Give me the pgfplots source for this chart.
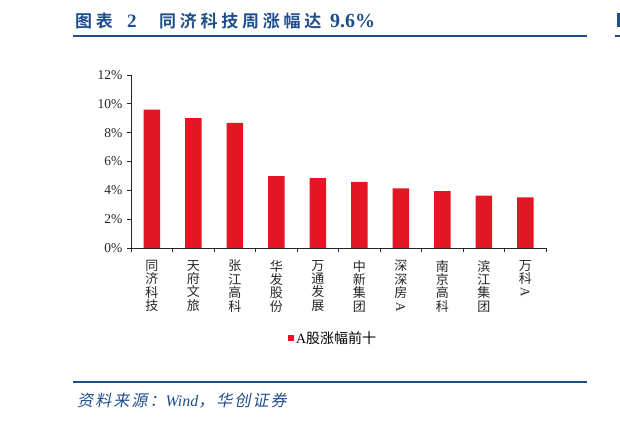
\documentclass[border=0pt]{standalone}
\usepackage{pgfplots}
\pgfplotsset{compat=1.18}
\usepackage{graphicx}
\usepackage{fontspec}
\setmainfont{Liberation Serif}
\newfontfamily\cjk{Noto Sans CJK SC}
\newfontfamily\cjkt[LetterSpace=22,BoldFont={Noto Sans CJK SC Bold}]{Noto Sans CJK SC}
\newfontfamily\cjkf[LetterSpace=13,FakeSlant=0.2]{Noto Sans CJK SC}
\definecolor{tblue}{RGB}{31,78,140}
\definecolor{bred}{RGB}{228,22,36}
\begin{document}
\begin{tikzpicture}[x=1pt,y=1pt]
\path[use as bounding box] (0,0) rectangle (620,422);
% title
\node[anchor=west,inner sep=0pt,text=tblue] at (75,401) {\cjkt\bfseries\fontsize{17}{19}\selectfont 图表};
\node[anchor=west,inner sep=0pt,text=tblue] at (127,401) {\bfseries\fontsize{19}{21}\selectfont 2};
\node[anchor=west,inner sep=0pt,text=tblue] at (159,401) {\cjkt\bfseries\fontsize{17}{19}\selectfont 同济科技周涨幅达};
\node[anchor=west,inner sep=0pt,text=tblue] at (330,401) {\bfseries\fontsize{20}{22}\selectfont 9.6\%};
\draw[tblue,line width=2pt] (73.3,386.3) -- (586.7,386.3);
\draw[tblue,line width=2pt] (615,386.3) -- (620,386.3);
\fill[tblue] (617,395) rectangle (620,409);
% footer
\draw[tblue,line width=2pt] (73.3,40.3) -- (586.7,40.3);
\node[anchor=west,inner sep=0pt,text=tblue] at (77,21) {\cjkf\fontsize{16}{18}\selectfont 资料来源：{\rmfamily\itshape Wind}，华创证券};
\begin{axis}[
  at={(131pt,174pt)}, anchor=south west,
  scale only axis, width=415pt, height=173pt,
  xmin=-0.5, xmax=9.5, ymin=0, ymax=12,
  enlargelimits=false, clip=false,
  axis x line=bottom, axis y line=left,
  axis line style={-, black!85, line width=0.9pt},
  tick align=outside, major tick length=4pt,
  tick style={black!85, line width=0.8pt},
  xtick={-0.5,0.5,...,9.5},
  xticklabels={{同\\济\\科\\技},{天\\府\\文\\旅},{张\\江\\高\\科},{华\\发\\股\\份},{万\\通\\发\\展},{中\\新\\集\\团},{深\\深\\房\\{\rotatebox[origin=c]{-90}{\rmfamily A}}},{南\\京\\高\\科},{滨\\江\\集\\团},{万\\科\\{\rotatebox[origin=c]{-90}{\rmfamily A}}},{}},
  x tick label style={xshift=20.75pt, align=center, anchor=north, inner sep=0pt, yshift=-8pt, text=black!85, font=\cjk\fontsize{13}{13.4}\selectfont},
  ytick={0,2,...,12},
  yticklabel={\pgfmathprintnumber{\tick}\%},
  /pgf/number format/assume math mode=true,
  y tick label style={font=\fontsize{13.5}{15}\selectfont, text=black!85, xshift=-1pt},
  ybar, bar width=16.5pt,
  legend style={draw=none, at={(0.487,-0.52)}, anchor=center, font=\fontsize{14}{16}\selectfont, inner sep=0pt},
  legend image code/.code={\fill[bred] (0pt,-3pt) rectangle (6pt,3pt);},
]
\addplot[fill=bred, draw=none, bar shift=0pt] coordinates {
(0,9.59) (1,9.01) (2,8.68) (3,4.99) (4,4.85) (5,4.58) (6,4.13) (7,3.95) (8,3.63) (9,3.51)};
\addlegendentry{A{\cjk 股涨幅前十}}
\end{axis}
\end{tikzpicture}
\end{document}
